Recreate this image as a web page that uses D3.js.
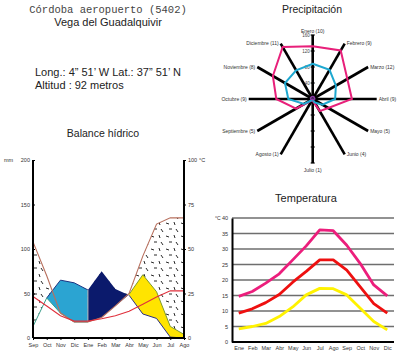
<!DOCTYPE html>
<html><head><meta charset="utf-8">
<script src="https://cdn.jsdelivr.net/npm/d3@7/dist/d3.min.js"></script>
<style>
body{margin:0;background:#fff}
svg{display:block}
text{font-family:"Liberation Sans",Arial,sans-serif;fill:#222}
</style>
</head><body>
<svg id="c" width="400" height="352"></svg>
<script>
// ---------- DATA ----------
// Water balance (months Sep..Ago), mm
const balMonths = ["Sep","Oct","Nov","Dic","Ene","Feb","Mar","Abr","May","Jun","Jul","Ago"];
const balPrecip = [13, 45, 65, 62, 54, 75, 55, 48, 27, 22, 1, 0];
const balEtr    = [13, 45, 28, 18, 18, 23, 36, 49, 71, 52, 13, 4];
const balEtp    = [108, 70, 28, 18, 18, 23, 36, 50, 92, 128, 135, 135];
const balTemp   = [23.3, 18, 12.5, 9.5, 9.5, 10.8, 12.5, 15, 19, 23, 26.5, 26.5];
const balMmTicks = [0, 50, 100, 150, 200];
const balCTicks = [0, 25, 50, 75, 100];

// Precipitation radar (Enero..Diciembre), mm
const radMonths = ["Enero","Febrero","Marzo","Abril","Mayo","Junio","Julio","Agosto","Septiembre","Octubre","Noviembre","Diciembre"];
const radDays   = [10, 9, 12, 9, 5, 4, 1, 1, 5, 9, 8, 11];
const radMax    = [132, 140, 100, 98, 45, 35, 4, 4, 48, 91, 115, 150];
const radMean   = [88, 84, 67, 56, 28, 10, 2, 3, 25, 61, 80, 83];
const radMin    = [6, 6, 5, 5, 3, 2, 1, 1, 2, 5, 6, 6];
const radTicks  = [40, 80, 120, 160];

// Temperature (Ene..Dic), °C
const tMonths = ["Ene","Feb","Mar","Abr","May","Jun","Jul","Ago","Sep","Oct","Nov","Dic"];
const tMax  = [14.7, 16.3, 19, 22, 26.5, 31, 36.2, 35.9, 31.2, 25.3, 18.4, 14.9];
const tMean = [9.3, 10.7, 12.7, 15.3, 19.3, 22.8, 26.5, 26.5, 23.2, 17.8, 12.4, 9.3];
const tMin  = [4.2, 5.0, 6.0, 8.2, 11.3, 15.2, 17.3, 17.2, 15.2, 10.9, 6.6, 3.9];
const tTicks = [0, 5, 10, 15, 20, 25, 30, 35, 40];

// ---------- DRAW ----------
const svg = d3.select("#c");
const defs = svg.append("defs");
const pat = defs.append("pattern").attr("id","dash").attr("patternUnits","userSpaceOnUse")
  .attr("width",15).attr("height",13);
pat.append("rect").attr("width",15).attr("height",13).attr("fill","#fff");
[[1,2,4,3],[9,1,10,4],[4,8,7,8],[11,8,13,11]].forEach(d=>{
  pat.append("line").attr("x1",d[0]).attr("y1",d[1]).attr("x2",d[2]).attr("y2",d[3])
    .attr("stroke","#111").attr("stroke-width",0.9);
});

// Header
svg.append("text").attr("x",108).attr("y",13).attr("text-anchor","middle")
  .style("font-family","'Liberation Mono','DejaVu Sans Mono',monospace").style("font-size","10.5px").style("fill","#444")
  .text("Córdoba aeropuerto (5402)");
svg.append("text").attr("x",108).attr("y",26).attr("text-anchor","middle").style("font-size","11px")
  .text("Vega del Guadalquivir");
svg.append("text").attr("x",35).attr("y",76).style("font-size","11px")
  .text("Long.: 4\u201D 51\u2019 W Lat.: 37\u201D 51\u2019 N");
svg.append("text").attr("x",35).attr("y",89).style("font-size","11px")
  .text("Altitud : 92 metros");

// ----- Balance hídrico -----
svg.append("text").attr("x",103).attr("y",137).attr("text-anchor","middle").style("font-size","10.5px")
  .text("Balance hídrico");
const bx = d3.scalePoint().domain(balMonths).range([33,184]);
const by = d3.scaleLinear().domain([0,200]).range([338,160]);
const byT = d3.scaleLinear().domain([0,100]).range([338,160]);
const idx = d3.range(balMonths.length);
const waterTop = idx.map(i=>Math.max(balPrecip[i], balEtr[i]));

const gB = svg.append("g");
gB.append("path").attr("fill","url(#dash)")
  .attr("d", d3.area().x(i=>bx(balMonths[i])).y0(i=>by(waterTop[i])).y1(i=>by(balEtp[i]))(idx));

const area = (lo, hi) => d3.area().x(i=>bx(balMonths[i])).y0(i=>by(lo[i])).y1(i=>by(hi[i]));
const line = (arr) => d3.line().x(i=>bx(balMonths[i])).y(i=>by(arr[i]));
const lb = [1,2,3,4], nv = [4,5,6,7], yl = [7,8,9,10,11];
gB.append("path").attr("fill","#2ba4d2").attr("d", area(balEtr, balPrecip)(lb));
gB.append("path").attr("fill","#0b1a6c").attr("d", area(balEtr, balPrecip)(nv));
gB.append("path").attr("fill","#ffe400").attr("d", area(balPrecip, balEtr)(yl));
// outlines
gB.append("path").attr("fill","none").attr("stroke","#1c3584").attr("stroke-width",1).attr("d", line(balPrecip)(lb));
gB.append("path").attr("fill","none").attr("stroke","#3a9e8a").attr("stroke-width",1).attr("d", line(balEtr)(lb));
gB.append("path").attr("fill","none").attr("stroke","#3a9e8a").attr("stroke-width",1).attr("d", line(balPrecip)([0,1]));
gB.append("path").attr("fill","none").attr("stroke","#bbbbbb").attr("stroke-width",1).attr("d", line(balPrecip)([4]) + "L" + bx("Ene") + "," + by(balEtr[4]));
gB.append("path").attr("fill","none").attr("stroke","#7d9a2c").attr("stroke-width",1).attr("d", line(balEtr)(yl));
gB.append("path").attr("fill","none").attr("stroke","#2a2f86").attr("stroke-width",1).attr("d", line(balPrecip)(yl));
// ETP and temperature
gB.append("path").attr("fill","none").attr("stroke","#b8705e").attr("stroke-width",1.1).attr("d", line(balEtp)(idx));
gB.append("path").attr("fill","none").attr("stroke","#e0303c").attr("stroke-width",1.1)
  .attr("d", d3.line().x(i=>bx(balMonths[i])).y(i=>byT(balTemp[i]))(idx));

// axes
const axL = d3.axisLeft(by).tickValues(balMmTicks).tickSize(-2).tickPadding(3);
const gAL = svg.append("g").attr("transform","translate(33,0)").call(axL);
const axR = d3.axisRight(byT).tickValues(balCTicks).tickSize(2).tickPadding(2);
const gAR = svg.append("g").attr("transform","translate(184,0)").call(axR);
const axB = d3.axisBottom(bx).tickSize(2).tickPadding(3);
const gAB = svg.append("g").attr("transform","translate(0,338)").call(axB);
[gAL,gAR,gAB].forEach(g=>{
  g.select(".domain").attr("stroke","#000").attr("stroke-width",2);
  g.selectAll(".tick line").attr("stroke","#000");
  g.selectAll("text").style("font-size","5.5px").style("fill","#333").style("font-family","'Liberation Sans',Arial,sans-serif");
});
gAL.select(".domain").attr("d","M0,160V338");
gAR.select(".domain").attr("d","M0,160V338");
gAB.select(".domain").attr("d","M33,0H184");
svg.append("text").attr("x",4).attr("y",162).style("font-size","5.5px").style("fill","#333").text("mm");
svg.append("text").attr("x",199).attr("y",162).style("font-size","5.5px").style("fill","#333").text("°C");

// ----- Precipitación (radar) -----
svg.append("text").attr("x",312).attr("y",13).attr("text-anchor","middle").style("font-size","10.5px")
  .text("Precipitación");
const cx = 312.7, cy = 99;
const rs = d3.scaleLinear().domain([0,160]).range([0,64]);
const angOf = m => radMonths.indexOf(m) * 2*Math.PI/radMonths.length;
const pt = (m, v) => [cx + rs(v)*Math.sin(angOf(m)), cy - rs(v)*Math.cos(angOf(m))];
const gR = svg.append("g");
radMonths.forEach((m,i)=>{
  const e = pt(m,160);
  gR.append("line").attr("x1",cx).attr("y1",cy).attr("x2",e[0]).attr("y2",e[1])
    .attr("stroke","#000").attr("stroke-width",2.6);
  const a = angOf(m);
  const s = Math.sin(a), c = Math.cos(a);
  let anchor = Math.abs(s) < 0.01 ? "middle" : (s > 0 ? "start" : "end");
  let lx = e[0] + (anchor==="start"?2:anchor==="end"?-2:0);
  let ly = e[1] + 1.8 + (anchor==="middle" ? (c>0?-4:7) : 0);
  gR.append("text").attr("x",lx).attr("y",ly).attr("text-anchor",anchor)
    .style("font-size","5px").style("fill","#333").text(`${m} (${radDays[i]})`);
});
// ticks on vertical axis
radTicks.forEach(t=>{
  ["Enero","Julio"].forEach(m=>{
    const p = pt(m,t);
    gR.append("line").attr("x1",p[0]-2).attr("x2",p[0]+2).attr("y1",p[1]).attr("y2",p[1])
      .attr("stroke","#000").attr("stroke-width",1.2);
  });
  const p = pt("Enero",t);
  gR.append("text").attr("x",p[0]-3).attr("y",p[1]+1.6).attr("text-anchor","end")
    .style("font-size","4.5px").style("fill","#444").text(t);
});
const radLine = d3.line().curve(d3.curveLinearClosed);
const poly = arr => radLine(radMonths.map((m,i)=>pt(m,arr[i])));
gR.append("path").attr("d",poly(radMax)).attr("fill","none").attr("stroke","#e8207a").attr("stroke-width",2);
gR.append("path").attr("d",poly(radMean)).attr("fill","none").attr("stroke","#1ea8d0").attr("stroke-width",2);
gR.append("path").attr("d",poly(radMin)).attr("fill","none").attr("stroke","#8a3aa6").attr("stroke-width",1.6);

// ----- Temperatura -----
svg.append("text").attr("x",306).attr("y",202).attr("text-anchor","middle").style("font-size","11px")
  .text("Temperatura");
const tx = d3.scalePoint().domain(tMonths).range([232,394]).padding(0.5);
const ty = d3.scaleLinear().domain([0,40]).range([342,218]);
const gT = svg.append("g");
tTicks.filter(t=>t>0).forEach(t=>{
  gT.append("line").attr("x1",232).attr("x2",394).attr("y1",ty(t)).attr("y2",ty(t))
    .attr("stroke","#6e6e6e").attr("stroke-width",1.4);
});
const ayT = d3.axisLeft(ty).tickValues(tTicks).tickSize(0).tickPadding(4);
const gTy = svg.append("g").attr("transform","translate(232,0)").call(ayT);
const axT = d3.axisBottom(tx).tickSize(0).tickPadding(4);
const gTx = svg.append("g").attr("transform","translate(0,342)").call(axT);
[gTy,gTx].forEach(g=>{
  g.select(".domain").attr("stroke","#000").attr("stroke-width",2);
  g.selectAll("text").style("font-size","5.5px").style("fill","#333").style("font-family","'Liberation Sans',Arial,sans-serif");
});
gTx.select(".domain").attr("d","M232,0H394");
svg.append("text").attr("x",215).attr("y",220).style("font-size","5px").style("fill","#333").text("°C");
const tl = d3.line().x((d,i)=>tx(tMonths[i])).y(d=>ty(d));
[[tMax,"#ec1e7c"],[tMean,"#ee1010"],[tMin,"#fff200"]].forEach(([arr,col])=>{
  gT.append("path").attr("d",tl(arr)).attr("fill","none").attr("stroke",col)
    .attr("stroke-width",2.8).attr("stroke-linejoin","round");
});
</script>
</body></html>
